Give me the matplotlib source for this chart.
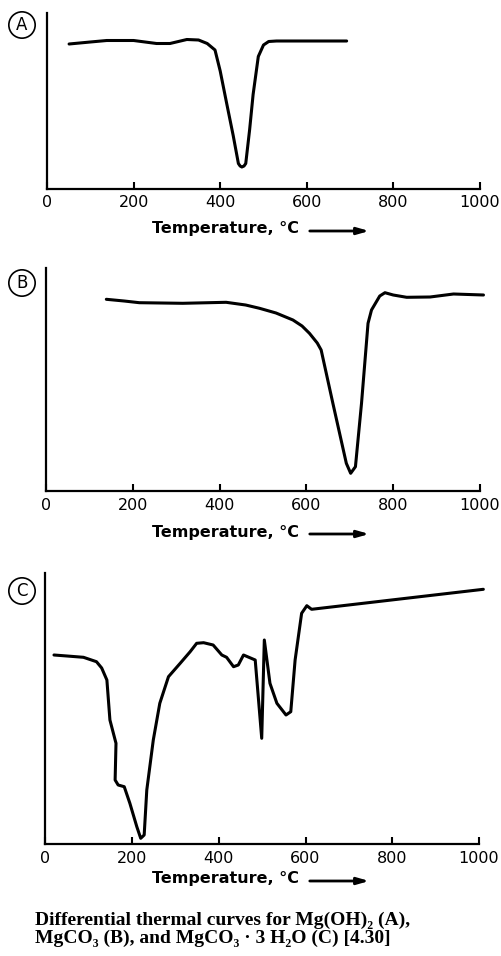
import matplotlib
matplotlib.use("Agg")
import matplotlib.pyplot as plt

# ---- data (temperature in °C, DTA signal in arbitrary units) ----
temp_A = [51, 100, 138, 200, 253, 284, 323, 350, 370, 388, 400, 415, 430, 442, 446, 450, 455, 459,
          468, 476, 488, 500, 512, 530, 692]
dta_A = [144.5, 146.5, 148, 148, 145, 145, 149, 148.5, 145, 138.5, 117.5, 85, 53, 25, 22.5, 21.5, 22.5, 25,
         59, 94, 132, 143.5, 147, 147.5, 147.5]

temp_B = [139, 180, 215, 315, 415, 460, 492, 530, 569, 590, 607, 625, 634, 661, 692, 702, 713,
          727, 742, 750, 769, 781, 800, 831, 885, 939, 1008]
dta_B = [191.7, 190, 188.3, 187.7, 188.7, 186, 182.7, 178, 171, 165, 157.7, 148, 141, 87.7, 27.7, 17.7, 24.3,
         87.7, 167.7, 181, 195, 198.3, 196, 193.7, 194, 197, 196]

temp_C = [20, 50, 88, 118, 130, 142, 149, 163, 161, 168, 182, 195, 211, 220, 228, 234, 249, 264, 284,
          311, 334, 349, 365, 387, 407, 418, 434, 445, 457, 484, 499, 505, 518, 534, 555, 566, 576, 591,
          603, 614, 1010]
dta_C = [189, 188, 186.7, 182.3, 176, 164, 124, 100.7, 64, 59, 57.3, 40.7, 17.3, 5.7, 9, 54, 104, 140.7, 167.3,
         180.7, 192.3, 200.7, 201.3, 199, 189, 186.7, 177.3, 179, 189, 184, 105.7, 204, 160.7, 140.7, 129, 132.3,
         184, 230.7, 238.3, 234.7, 254.7]

xticks = [0, 200, 400, 600, 800, 1000]
panel_letters = ["A", "B", "C"]
xlabel_text = "Temperature, °C"
caption_1 = "Differential thermal curves for Mg(OH)₂ (A),"
caption_2 = "MgCO₃ (B), and MgCO₃ · 3 H₂O (C) [4.30]"

W, H = 502, 956
fig = plt.figure(figsize=(W / 100, H / 100), dpi=100)

def fx(px):
    return px / W

def fy(py):
    return 1 - py / H

# panel geometry in pixels: left, right, top, bottom(axis line), label y, letter y
panels = [
    (47, 480, 13, 188.5, 229, 25),
    (46, 480, 268, 491, 532, 283),
    (45.3, 479, 573, 844, 879, 591),
]
series = [(temp_A, dta_A), (temp_B, dta_B), (temp_C, dta_C)]

for (l, r, t, b, lab_y, let_y), (xs, ys), letter in zip(panels, series, panel_letters):
    ax = fig.add_axes([fx(l), fy(b), (r - l) / W, (b - t) / H])
    ax.plot(xs, ys, color="black", lw=2.2, solid_joinstyle="round",
            solid_capstyle="round", clip_on=False)
    ax.set_xlim(0, 1000)
    ax.set_ylim(0, b - t)
    for s in ["top", "right"]:
        ax.spines[s].set_visible(False)
    for s in ["left", "bottom"]:
        ax.spines[s].set_linewidth(1.6)
    ax.set_yticks([])
    ax.set_xticks(xticks)
    ax.set_xticklabels([str(v) for v in xticks], fontsize=11.5)
    ax.tick_params(axis="x", direction="in", length=5, width=1.5, pad=5)
    ax.patch.set_alpha(0)
    # axis label with arrow
    fig.text(fx(152), fy(lab_y), xlabel_text, fontsize=11.5, fontweight="bold",
             ha="left", va="center")
    ax.annotate("", xy=(fx(372), fy(lab_y + 2)), xycoords="figure fraction",
                xytext=(fx(307), fy(lab_y + 2)), textcoords="figure fraction",
                arrowprops=dict(arrowstyle="-|>,head_length=0.7,head_width=0.2",
                                color="black", lw=2))
    # circled panel letter
    fig.text(fx(22), fy(let_y), letter, fontsize=12, ha="center", va="center",
             bbox=dict(boxstyle="circle,pad=0.25", fc="white", ec="black", lw=1.2))

cap_font = ["Liberation Serif", "DejaVu Serif"]
fig.text(fx(35), fy(920), caption_1, family=cap_font, fontsize=14, fontweight="bold",
         ha="left", va="center")
fig.text(fx(35), fy(938), caption_2, family=cap_font, fontsize=14, fontweight="bold",
         ha="left", va="center")

fig.savefig("out.png", dpi=100, facecolor="white")
